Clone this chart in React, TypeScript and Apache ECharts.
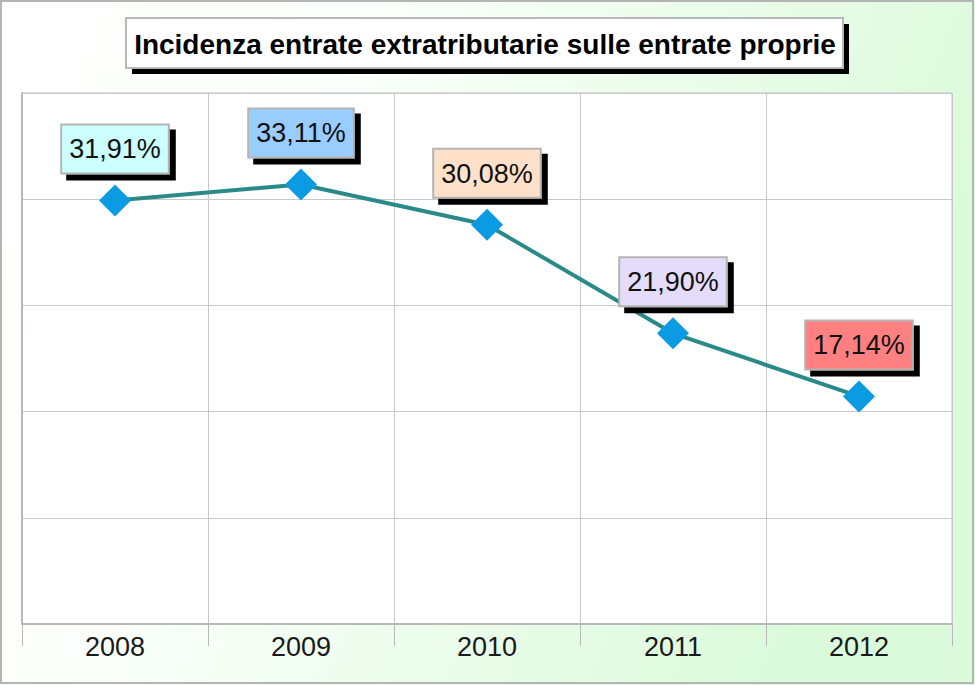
import React, { useEffect, useRef } from "react";
import * as echarts from "echarts";

const categories = ["2008", "2009", "2010", "2011", "2012"];
const values = [31.91, 33.11, 30.08, 21.9, 17.14];
const labelColors = ["#ccffff", "#99ccff", "#ffe0c8", "#e4dcfa", "#ff8080"];
const titleText = "Incidenza entrate extratributarie sulle entrate proprie";
const yMin = 0;
const yMax = 40;
const yInterval = 8;

export default function App() {
  const ref = useRef<HTMLDivElement>(null);
  useEffect(() => {
    if (!ref.current) return;
    const chart = echarts.init(ref.current, null, { renderer: "svg" });
    const fmt = (v: number) => v.toFixed(2).replace(".", ",") + "%";
    chart.setOption({
      animation: false,
      backgroundColor: {
        type: "linear",
        x: 0,
        y: 0,
        x2: 1,
        y2: 0.3,
        colorStops: [
          { offset: 0, color: "#ffffff" },
          { offset: 0.35, color: "#fbfffb" },
          { offset: 1, color: "#dbfadb" },
        ],
      },
      graphic: [
        {
          type: "rect",
          shape: { x: 1, y: 1, width: 972, height: 682 },
          style: { fill: "none", stroke: "#b4b4b4", lineWidth: 2 },
          silent: true,
        },
        {
          type: "rect",
          shape: { x: 132, y: 24, width: 717, height: 50 },
          style: { fill: "#000000" },
          silent: true,
        },
        {
          type: "rect",
          shape: { x: 126, y: 18, width: 717, height: 50 },
          style: { fill: "#ffffff", stroke: "#b8b8b8", lineWidth: 2 },
          silent: true,
        },
        {
          type: "text",
          x: 485,
          y: 44,
          style: {
            text: titleText,
            fill: "#000000",
            font: "bold 28px Arial, 'Liberation Sans', sans-serif",
            align: "center",
            verticalAlign: "middle",
          },
          silent: true,
        },
      ],
      grid: {
        left: 22,
        right: 23,
        top: 93,
        bottom: 61,
        show: true,
        backgroundColor: "#ffffff",
        borderColor: "#c0c0c0",
        borderWidth: 1,
      },
      xAxis: {
        type: "category",
        data: categories,
        boundaryGap: true,
        axisLine: { show: true, lineStyle: { color: "#b8b8b8", width: 2 } },
        axisTick: { show: true, length: 22, lineStyle: { color: "#b8b8b8", width: 1 } },
        axisLabel: {
          margin: 9,
          fontSize: 27,
          color: "#1a1a1a",
          fontFamily: "Arial, 'Liberation Sans', sans-serif",
        },
        splitLine: { show: true, lineStyle: { color: "#c8c8c8", width: 1 } },
      },
      yAxis: {
        type: "value",
        min: yMin,
        max: yMax,
        interval: yInterval,
        axisLine: { show: true, lineStyle: { color: "#b8b8b8", width: 2 } },
        axisTick: { show: false },
        axisLabel: { show: false },
        splitLine: { show: true, lineStyle: { color: "#c8c8c8", width: 1 } },
      },
      series: [
        {
          type: "line",
          data: values.map((v, i) => ({
            value: v,
            label: { backgroundColor: labelColors[i] },
          })),
          symbol: "diamond",
          symbolSize: 32,
          itemStyle: { color: "#0a9be3" },
          lineStyle: { color: "#2a8a8a", width: 4 },
          label: {
            show: true,
            position: "top",
            distance: 12,
            formatter: (p: any) => fmt(p.value),
            fontSize: 27,
            lineHeight: 30,
            color: "#111111",
            fontFamily: "Arial, 'Liberation Sans', sans-serif",
            padding: [9, 7, 8, 7],
            borderColor: "#b4b4b4",
            borderWidth: 2,
            shadowColor: "#000000",
            shadowBlur: 0,
            shadowOffsetX: 6,
            shadowOffsetY: 6,
          },
        },
      ],
    });
    return () => chart.dispose();
  }, []);
  return (
    <div
      ref={ref}
      style={{ position: "fixed", left: 0, top: 0, width: 975, height: 685 }}
    />
  );
}
